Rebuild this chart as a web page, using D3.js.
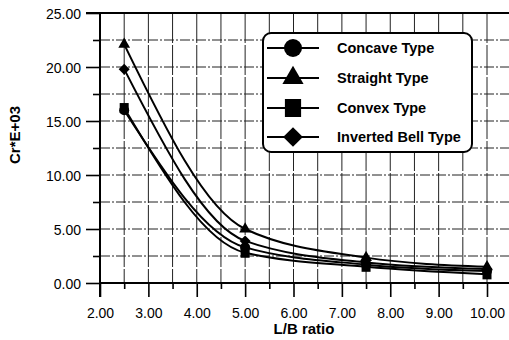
<!DOCTYPE html>
<html><head><meta charset="utf-8">
<script src="https://cdn.jsdelivr.net/npm/d3@7"></script>
<style>body{margin:0;background:#fff}svg{display:block}text{font-family:"Liberation Sans",Arial,sans-serif;fill:#000}</style>
</head><body>
<script>
const xValues = [2.5, 5, 7.5, 10];
const straight = [22.1, 5.0, 2.35, 1.5];
const bell = [19.8, 3.9, 1.9, 1.3];
const concave = [16.0, 3.3, 1.7, 1.1];
const convex = [16.2, 2.8, 1.5, 0.8];
const seriesNames = ["Concave Type", "Straight Type", "Convex Type", "Inverted Bell Type"];
const xTicks = [2, 3, 4, 5, 6, 7, 8, 9, 10];
const yTicks = [0, 5, 10, 15, 20, 25];

const W = 509, H = 340;
const svg = d3.select("body").append("svg").attr("width", W).attr("height", H);
const x = d3.scaleLinear().domain([2, 10]).range([100, 487]);
const y = d3.scaleLinear().domain([0, 25]).range([283, 13]);
const right = W;

// grid
const g = svg.append("g");
d3.range(2.5, 10.51, 0.5).forEach(v => {
  g.append("line").attr("x1", x(v)).attr("x2", x(v)).attr("y1", y(25)).attr("y2", y(0))
    .attr("stroke", "#222").attr("stroke-width", 1).attr("stroke-dasharray", "30,2");
});
d3.range(2.5, 25, 2.5).forEach(v => {
  g.append("line").attr("x1", x(2)).attr("x2", right).attr("y1", y(v)).attr("y2", y(v))
    .attr("stroke", "#222").attr("stroke-width", 1).attr("stroke-dasharray", "10,2,2,2");
});
// frame top
g.append("line").attr("x1", x(2) - 14).attr("x2", right).attr("y1", y(25)).attr("y2", y(25)).attr("stroke", "#000").attr("stroke-width", 2);

// axes
const xAxis = d3.axisBottom(x).tickValues(d3.range(2, 10.51, 0.5)).tickSize(0).tickFormat("");
const ax = svg.append("g").attr("transform", `translate(0,${y(0)})`).call(xAxis);
ax.select(".domain").remove();
ax.selectAll(".tick line").each(function(d){
  d3.select(this).attr("y2", Number.isInteger(d) ? 14 : 6).attr("stroke", "#000").attr("stroke-width", 1.6);
});
ax.selectAll(".tick").filter(d => Number.isInteger(d) && xTicks.includes(d)).append("text")
  .attr("y", 35).attr("text-anchor", "middle").attr("font-size", 14).attr("fill", "#000")
  .text(d => d3.format(".2f")(d));
svg.append("line").attr("x1", x(2)).attr("x2", right).attr("y1", y(0)).attr("y2", y(0)).attr("stroke", "#000").attr("stroke-width", 2);

const yAxis = d3.axisLeft(y).tickValues(d3.range(0, 25.1, 2.5)).tickSize(0).tickFormat("");
const ay = svg.append("g").attr("transform", `translate(${x(2)},0)`).call(yAxis);
ay.select(".domain").remove();
ay.selectAll(".tick line").each(function(d){
  d3.select(this).attr("x2", yTicks.includes(d) ? -14 : -7).attr("stroke", "#000").attr("stroke-width", 1.6);
});
ay.selectAll(".tick").filter(d => yTicks.includes(d)).append("text")
  .attr("x", -19).attr("dy", "0.36em").attr("text-anchor", "end").attr("font-size", 14).attr("fill", "#000")
  .text(d => d3.format(".2f")(d));
svg.append("line").attr("x1", x(2)).attr("x2", x(2)).attr("y1", y(25)).attr("y2", y(0) + 14).attr("stroke", "#000").attr("stroke-width", 2);

// labels
svg.append("text").attr("x", 304).attr("y", 334).attr("text-anchor", "middle")
  .attr("font-size", 15).attr("font-weight", "bold").text("L/B ratio");
svg.append("text").attr("transform", "translate(20,135) rotate(-90)").attr("text-anchor", "middle")
  .attr("font-size", 15).attr("font-weight", "bold").text("Cr*E+03");

// series
const data = [
  {name: seriesNames[0], vals: concave, sym: "circle"},
  {name: seriesNames[1], vals: straight, sym: "triangle"},
  {name: seriesNames[2], vals: convex, sym: "square"},
  {name: seriesNames[3], vals: bell, sym: "diamond"}
];
const line = d3.line().x(d => x(d[0])).y(d => y(d[1])).curve(d3.curveMonotoneX);
function marker(sel, type, s) {
  if (type === "circle") sel.append("circle").attr("r", 5 * s);
  else if (type === "triangle") sel.append("path").attr("d", d3.symbol(d3.symbolTriangle, 60 * s * s)());
  else if (type === "square") sel.append("rect").attr("x", -4.5 * s).attr("y", -5 * s).attr("width", 9 * s).attr("height", 10 * s);
  else sel.append("path").attr("d", d3.symbol(d3.symbolSquare, 60 * s * s)()).attr("transform", "rotate(45)");
  sel.attr("fill", "#000");
}
data.forEach(s => {
  const pts = xValues.map((xv, i) => [xv, s.vals[i]]);
  svg.append("path").attr("d", line(pts)).attr("fill", "none").attr("stroke", "#000").attr("stroke-width", 2);
});
data.forEach(s => {
  xValues.forEach((xv, i) => {
    const m = svg.append("g").attr("transform", `translate(${x(xv)},${y(s.vals[i])})`);
    marker(m, s.sym, 1);
  });
});

// legend
const lg = svg.append("g");
lg.append("rect").attr("x", 263).attr("y", 33).attr("width", 209).attr("height", 119).attr("rx", 8)
  .attr("fill", "#fff").attr("stroke", "#000").attr("stroke-width", 2);
const ly = [48, 78, 108, 137];
data.forEach((s, i) => {
  lg.append("line").attr("x1", 267).attr("x2", 319).attr("y1", ly[i]).attr("y2", ly[i]).attr("stroke", "#000").attr("stroke-width", 2);
  const m = lg.append("g").attr("transform", `translate(293,${ly[i]})`);
  marker(m, s.sym, 1.8);
  lg.append("text").attr("x", 337).attr("y", ly[i]).attr("dy", "0.36em").attr("font-size", 14.5)
    .attr("font-weight", "bold").text(s.name);
});
</script>
</body></html>
